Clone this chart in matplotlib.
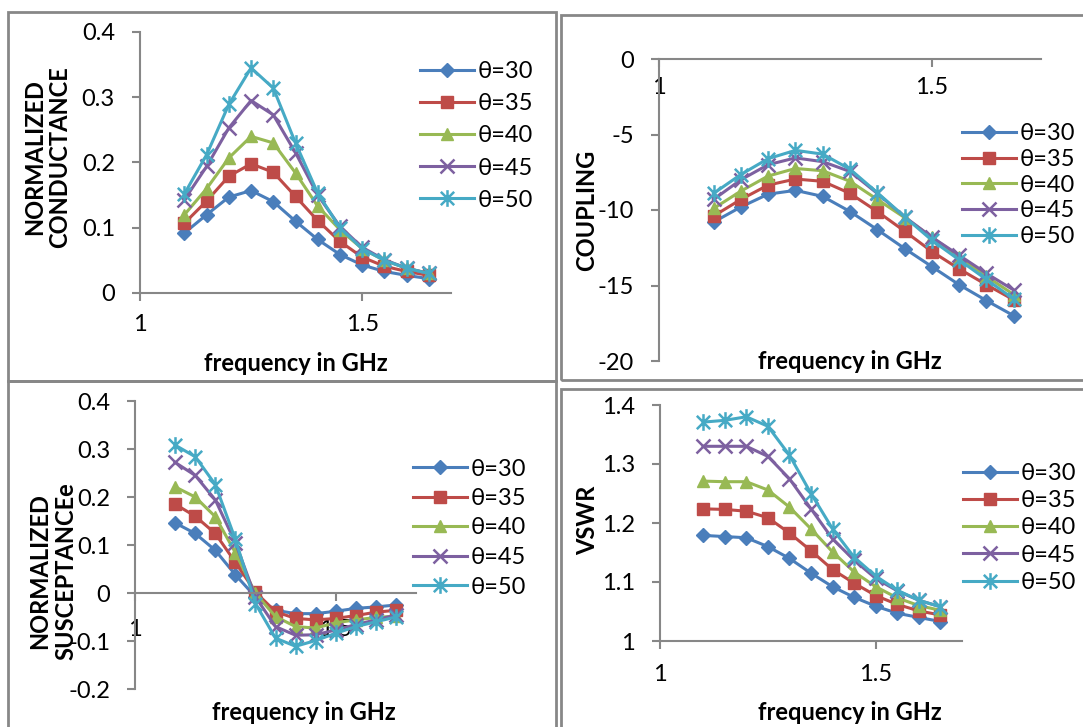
import matplotlib
matplotlib.use("Agg")
import matplotlib.pyplot as plt
from matplotlib.path import Path
from matplotlib.patches import Rectangle

plt.rcParams['font.family'] = ['Lato', 'DejaVu Sans']

# frequency points (GHz)
freq = [1.10, 1.15, 1.20, 1.25, 1.30, 1.35, 1.40, 1.45, 1.50, 1.55, 1.60, 1.65]
labels = ['θ=30', 'θ=35', 'θ=40', 'θ=45', 'θ=50']

# normalized conductance
g30 = [0.092, 0.120, 0.147, 0.157, 0.140, 0.110, 0.082, 0.059, 0.043, 0.033, 0.027, 0.022]
g35 = [0.107, 0.141, 0.179, 0.198, 0.185, 0.148, 0.111, 0.079, 0.055, 0.041, 0.033, 0.027]
g40 = [0.120, 0.160, 0.207, 0.240, 0.230, 0.184, 0.133, 0.097, 0.068, 0.050, 0.038, 0.030]
g45 = [0.143, 0.194, 0.253, 0.295, 0.273, 0.215, 0.150, 0.102, 0.070, 0.051, 0.038, 0.030]
g50 = [0.152, 0.212, 0.289, 0.345, 0.314, 0.230, 0.153, 0.100, 0.068, 0.050, 0.038, 0.030]

# coupling
c30 = [-10.8, -9.8, -8.95, -8.7, -9.1, -10.1, -11.3, -12.55, -13.75, -14.95, -16.0, -17.0]
c35 = [-10.4, -9.3, -8.35, -7.95, -8.1, -8.9, -10.1, -11.4, -12.75, -13.9, -14.95, -15.95]
c40 = [-9.9, -8.75, -7.75, -7.25, -7.4, -8.1, -9.3, -10.5, -11.8, -13.1, -14.4, -15.6]
c45 = [-9.3, -8.0, -7.0, -6.55, -6.8, -7.45, -8.9, -10.45, -11.8, -13.0, -14.2, -15.3]
c50 = [-8.9, -7.65, -6.6, -6.05, -6.3, -7.3, -8.85, -10.45, -12.0, -13.3, -14.6, -15.9]

# normalized susceptance
b30 = [0.146, 0.124, 0.089, 0.038, -0.008, -0.036, -0.043, -0.043, -0.038, -0.032, -0.029, -0.025]
b35 = [0.185, 0.160, 0.124, 0.064, 0.002, -0.039, -0.053, -0.056, -0.053, -0.047, -0.040, -0.036]
b40 = [0.221, 0.200, 0.159, 0.084, -0.001, -0.049, -0.070, -0.073, -0.062, -0.056, -0.051, -0.048]
b45 = [0.272, 0.245, 0.194, 0.105, -0.008, -0.070, -0.088, -0.087, -0.077, -0.066, -0.056, -0.046]
b50 = [0.308, 0.284, 0.226, 0.112, -0.022, -0.094, -0.111, -0.099, -0.084, -0.070, -0.060, -0.050]

# VSWR
v30 = [1.179, 1.177, 1.175, 1.160, 1.140, 1.115, 1.092, 1.074, 1.059, 1.047, 1.040, 1.033]
v35 = [1.224, 1.223, 1.220, 1.209, 1.183, 1.153, 1.121, 1.098, 1.077, 1.062, 1.051, 1.044]
v40 = [1.271, 1.270, 1.270, 1.256, 1.227, 1.190, 1.151, 1.117, 1.092, 1.073, 1.060, 1.052]
v45 = [1.330, 1.330, 1.330, 1.313, 1.275, 1.224, 1.173, 1.137, 1.106, 1.085, 1.069, 1.058]
v50 = [1.371, 1.374, 1.380, 1.364, 1.315, 1.250, 1.190, 1.142, 1.110, 1.086, 1.069, 1.058]

colors = ['#4A7EBB', '#BE4B48', '#98B954', '#7D60A0', '#46AAC5']

# excel-like star marker (x with a vertical bar)
star = Path([(-1, -1), (1, 1), (-1, 1), (1, -1), (0, -1.25), (0, 1.25)],
            [Path.MOVETO, Path.LINETO, Path.MOVETO, Path.LINETO, Path.MOVETO, Path.LINETO])
markers = [('D', 7), ('s', 8), ('^', 9), ('x', 10), (star, 12)]

W, H = 1083, 727
FS = 17
fig = plt.figure(figsize=(W / 100, H / 100), dpi=100)
GRAY = '#878787'

# chart area frames
for l, t, r, b in [(8, 12, 556, 381), (561, 15, 1090, 380), (8, 381, 556, 740), (561, 389, 1090, 740)]:
    fig.patches.append(Rectangle((l / W, 1 - b / H), (r - l) / W, (b - t) / H,
                                 transform=fig.transFigure, fill=False,
                                 edgecolor=GRAY, lw=2))


def px_axes(l, t, r, b):
    return fig.add_axes([l / W, 1 - b / H, (r - l) / W, (b - t) / H])


def fmt_plain(v):
    s = ('%.1f' % v).rstrip('0').rstrip('.')
    return '0' if s in ('-0', '0') else s


def draw(ax, series, ylim, yticks, xpad, ylabel, ylab_xy, xlab_xy, leg_pos, leg_sp):
    for s, c, (m, ms), lab in zip(series, colors, markers, labels):
        kw = dict(color=c, lw=2.2, marker=m, markersize=ms, label=lab)
        if m == 'x' or m is star:
            kw.update(markeredgewidth=1.8, markerfacecolor='none')
        else:
            kw.update(markeredgecolor=c, markerfacecolor=c)
        ax.plot(freq, s, clip_on=False, **kw)
    ax.set_xlim(1, 1.7)
    ax.set_ylim(*ylim)
    ax.set_xticks([1, 1.5])
    ax.set_xticklabels(['1', '1.5'])
    ax.set_yticks(yticks)
    ax.set_yticklabels([fmt_plain(v) for v in yticks])
    for side in ('top', 'right'):
        ax.spines[side].set_visible(False)
    for side in ('left', 'bottom'):
        ax.spines[side].set_color(GRAY)
        ax.spines[side].set_linewidth(1.5)
    ax.tick_params(axis='both', color=GRAY, width=1.5, length=6, labelsize=FS)
    ax.tick_params(axis='y', pad=12)
    ax.tick_params(axis='x', pad=xpad)
    ax.patch.set_alpha(0)
    ax.set_xlabel('frequency in GHz', fontsize=FS, fontweight='bold')
    ax.xaxis.set_label_coords(*xlab_xy)
    ax.set_ylabel(ylabel, fontsize=FS, fontweight='bold', linespacing=1.15)
    ax.yaxis.set_label_coords(*ylab_xy)
    ax.legend(loc='center left', bbox_to_anchor=leg_pos, bbox_transform=fig.transFigure,
              frameon=False, fontsize=FS, handlelength=2.3, handletextpad=0.15,
              labelspacing=leg_sp, borderpad=0, borderaxespad=0)


ax1 = px_axes(140, 32, 451, 293)
draw(ax1, [g30, g35, g40, g45, g50], (0, 0.4), [0, 0.1, 0.2, 0.3, 0.4],
     9, 'NORMALIZED\nCONDUCTANCE', (-0.22, 0.52), (0.5, -0.225),
     (420 / W, 1 - 136 / H), 0.47)

ax2 = px_axes(659, 59, 1041, 361)
draw(ax2, [c30, c35, c40, c45, c50], (-20, 0), [-20, -15, -10, -5, 0],
     7, 'COUPLING', (-0.16, 0.5), (0.5, 0.035),
     (962 / W, 1 - 185 / H), 0.2)
ax2.spines['bottom'].set_position(('data', 0))

ax3 = px_axes(135, 401, 416, 689)
draw(ax3, [b30, b35, b40, b45, b50], (-0.2, 0.4), [-0.2, -0.1, 0, 0.1, 0.2, 0.3, 0.4],
     12.5, 'NORMALIZED\nSUSCEPTANCEe', (-0.205, 0.41), (0.6, -0.04),
     (413 / W, 1 - 528 / H), 0.36)
ax3.spines['bottom'].set_position(('data', 0))

ax4 = px_axes(660, 405, 962, 641)
draw(ax4, [v30, v35, v40, v45, v50], (1, 1.4), [1, 1.1, 1.2, 1.3, 1.4],
     10.5, 'VSWR', (-0.2, 0.51), (0.63, -0.255),
     (963 / W, 1 - 528 / H), 0.26)

fig.savefig('out.png', dpi=100)
